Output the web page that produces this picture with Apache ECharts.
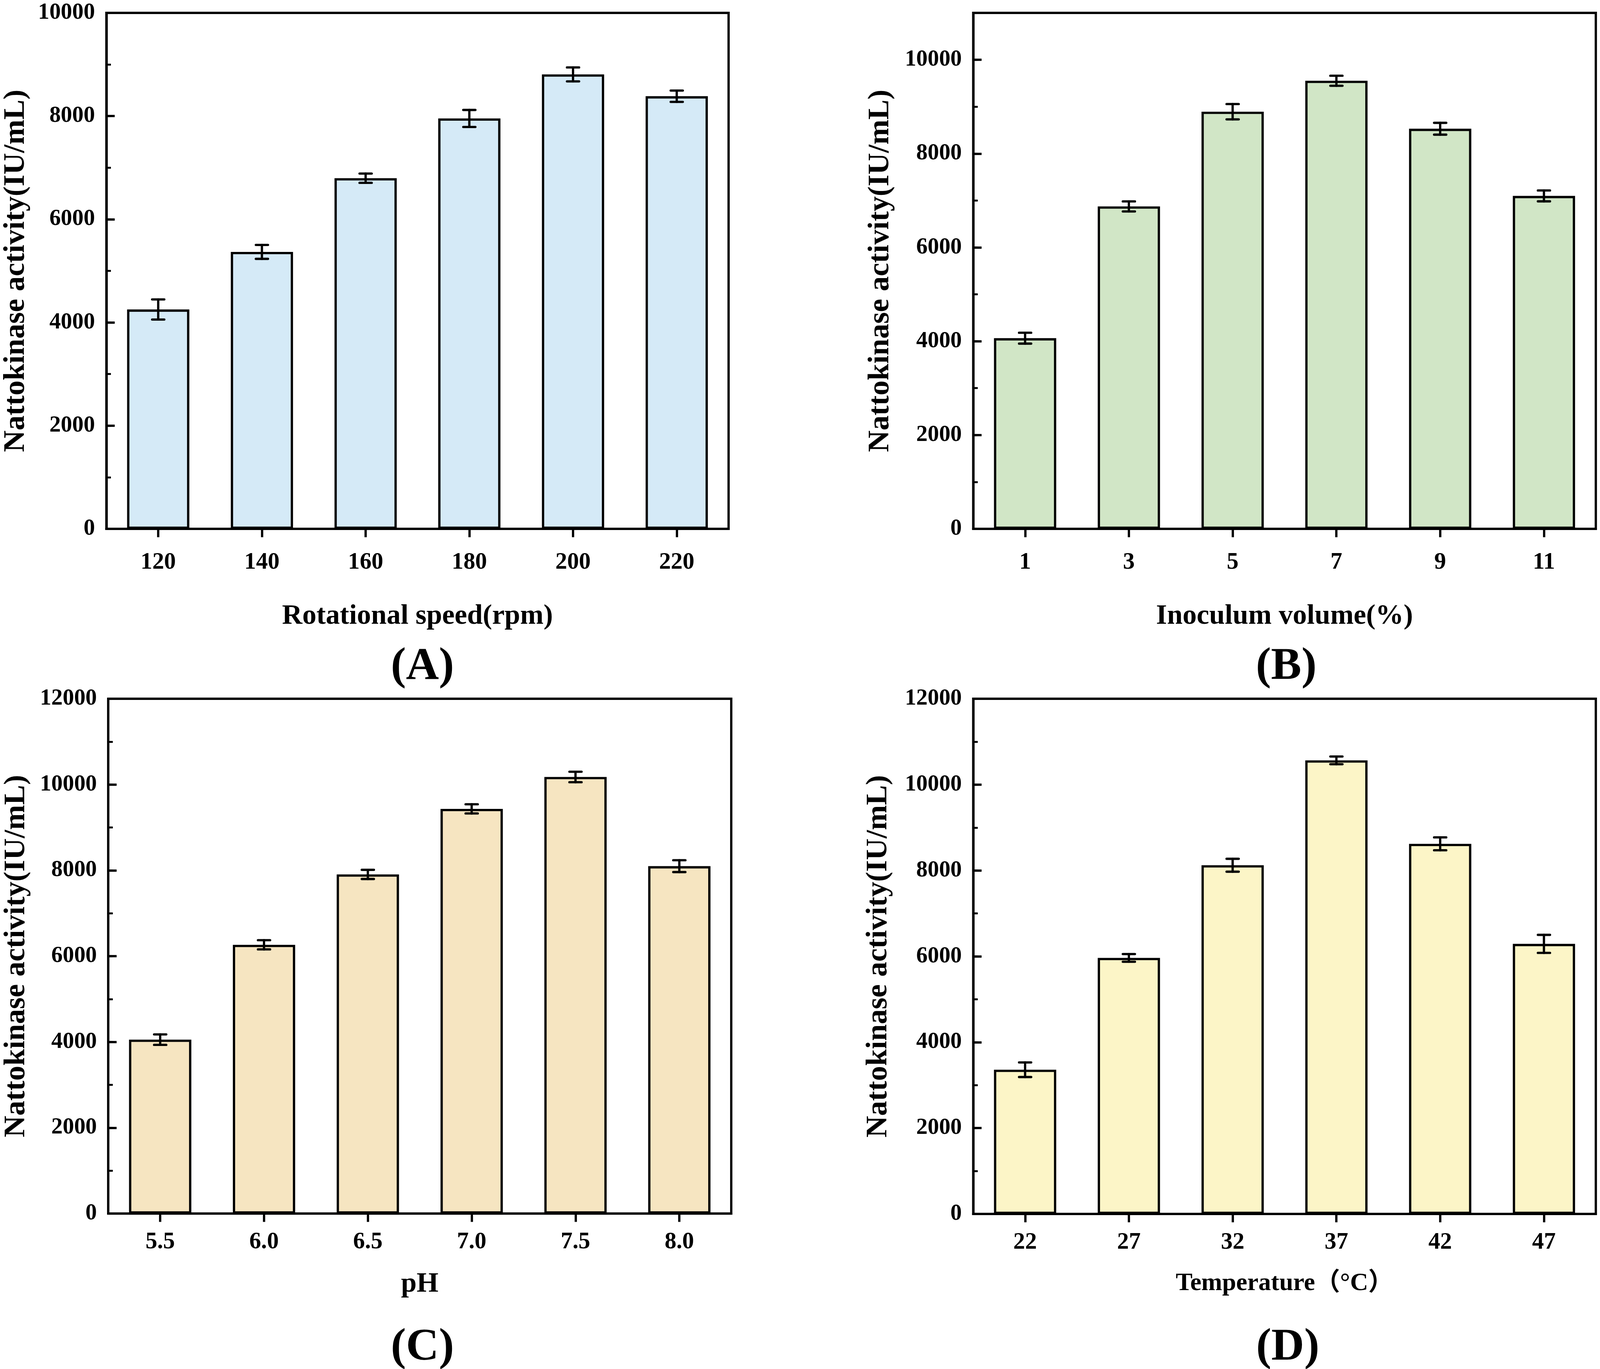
<!DOCTYPE html>
<html>
<head>
<meta charset="utf-8">
<script src="https://cdn.jsdelivr.net/npm/echarts@6/dist/echarts.min.js"></script>
<style>
html,body{margin:0;padding:0;background:#fff;overflow:hidden;}
#chart{width:100vw;height:100vh;}
</style>
</head>
<body>
<div id="chart"></div>
<script>
// ---- Data ----
const yTitle = 'Nattokinase activity(IU/mL)';

const catsA = ['120', '140', '160', '180', '200', '220'];
const valsA = [4252, 5368, 6796, 7954, 8808, 8385];
const errsA = [195, 135, 90, 165, 135, 110];
const titleA = 'Rotational speed(rpm)';

const catsB = ['1', '3', '5', '7', '9', '11'];
const valsB = [4065, 6874, 8893, 9553, 8530, 7098];
const errsB = [116, 107, 163, 107, 126, 116];
const titleB = 'Inoculum volume(%)';

const catsC = ['5.5', '6.0', '6.5', '7.0', '7.5', '8.0'];
const valsC = [4054, 6265, 7905, 9433, 10177, 8098];
const errsC = [122, 107, 107, 107, 122, 138];
const titleC = 'pH';

const catsD = ['22', '27', '32', '37', '42', '47'];
const valsD = [3359, 5964, 8122, 10565, 8621, 6290];
const errsD = [170, 90, 150, 90, 150, 210];
const titleD = 'Temperature（°C）';

const panelLabels = ['(A)', '(B)', '(C)', '(D)'];

// ---- Layout / style (reference frame 4212 x 3505, scaled to the viewport) ----
const el = document.getElementById('chart');
const W = el.clientWidth || window.innerWidth, H = el.clientHeight || window.innerHeight;
const sx = W / 4212, sy = H / 3505, s = Math.min(sx, sy);
const FONT = '"Liberation Serif", "Times New Roman", "Noto Sans CJK SC", serif';
const LW = 6 * s;

const panels = [
  {cats: catsA, vals: valsA, errs: errsA, xName: titleA, color: '#D5EAF7', max: 10000,
   grid: [280, 33, 1638, 1321], xGap: 194, xSize: 74, xMargin: 58, yGap: 198, label: [1112, 1708]},
  {cats: catsB, vals: valsB, errs: errsB, xName: titleB, color: '#D1E6C6', max: 11000,
   grid: [2562, 33, 1639, 1321], xGap: 194, xSize: 74, xMargin: 58, yGap: 204, label: [3386, 1708]},
  {cats: catsC, vals: valsC, errs: errsC, xName: titleC, color: '#F6E5C1', max: 12000,
   grid: [285, 1789, 1640, 1318], xGap: 150, xSize: 74, xMargin: 45, yGap: 202, label: [1112, 3451]},
  {cats: catsD, vals: valsD, errs: errsD, xName: titleD, color: '#FCF5C7', max: 12000,
   grid: [2562, 1789, 1639, 1319], xGap: 150, xSize: 66, xMargin: 45, yGap: 210, label: [3390, 3451]}
];

const grids = [], xAxes = [], yAxes = [], series = [], graphics = [];
panels.forEach((p, i) => {
  grids.push({show: true, borderColor: '#000', borderWidth: LW, backgroundColor: 'transparent',
    left: p.grid[0] * sx, top: p.grid[1] * sy, width: p.grid[2] * sx, height: p.grid[3] * sy});
  xAxes.push({
    type: 'category', gridIndex: i, data: p.cats, position: 'bottom',
    axisLine: {show: true, onZero: false, lineStyle: {color: '#000', width: LW}},
    axisTick: {show: true, alignWithLabel: true, length: 22 * s, lineStyle: {color: '#000', width: LW}},
    axisLabel: {fontFamily: FONT, fontWeight: 'bold', fontSize: 62 * s, color: '#000', margin: p.xMargin * s},
    splitLine: {show: false},
    name: p.xName, nameLocation: 'middle', nameGap: p.xGap * s,
    nameTextStyle: {fontFamily: FONT, fontWeight: 'bold', fontSize: p.xSize * s, color: '#000'}
  });
  yAxes.push({
    type: 'value', gridIndex: i, position: 'left', min: 0, max: p.max, interval: 2000,
    axisLine: {show: true, lineStyle: {color: '#000', width: LW}},
    axisTick: {show: true, inside: true, length: 22 * s, lineStyle: {color: '#000', width: LW}},
    axisLabel: {fontFamily: FONT, fontWeight: 'bold', fontSize: 60 * s, color: '#000', margin: 30 * s,
      formatter: v => (v % 2000 === 0 ? String(v) : '')},
    splitLine: {show: false},
    name: yTitle, nameLocation: 'middle', nameGap: p.yGap * s,
    nameTextStyle: {fontFamily: FONT, fontWeight: 'bold', fontSize: 79 * s, color: '#000'}
  });
  yAxes.push({
    type: 'value', gridIndex: i, position: 'left', offset: 0, min: 0, max: p.max, interval: 1000,
    axisLine: {show: false},
    axisTick: {show: true, inside: true, length: 12 * s, lineStyle: {color: '#000', width: 5 * s}},
    axisLabel: {show: false},
    splitLine: {show: false}
  });
  series.push({
    type: 'bar', xAxisIndex: i, yAxisIndex: i * 2, data: p.vals, barWidth: '60%',
    itemStyle: {color: p.color, borderColor: '#000', borderWidth: LW},
    z: 2
  });
  series.push({
    type: 'custom', xAxisIndex: i, yAxisIndex: i * 2, z: 5,
    data: p.vals.map((v, k) => [k, v, p.errs[k]]),
    renderItem: function (params, api) {
      const idx = api.value(0), v = api.value(1), e = api.value(2);
      const top = api.coord([idx, v + e]);
      const bot = api.coord([idx, v - e]);
      const hw = 16 * s;
      const st = {stroke: '#000', lineWidth: LW, lineCap: 'round'};
      return {type: 'group', children: [
        {type: 'line', shape: {x1: top[0], y1: top[1], x2: bot[0], y2: bot[1]}, style: st},
        {type: 'line', shape: {x1: top[0] - hw, y1: top[1], x2: top[0] + hw, y2: top[1]}, style: st},
        {type: 'line', shape: {x1: bot[0] - hw, y1: bot[1], x2: bot[0] + hw, y2: bot[1]}, style: st}
      ]};
    }
  });
  graphics.push({
    type: 'text', x: p.label[0] * sx, y: p.label[1] * sy,
    style: {text: panelLabels[i], font: 'bold ' + (120 * s) + 'px ' + FONT, fill: '#000',
      textAlign: 'center', textVerticalAlign: 'middle'}
  });
});

const chart = echarts.init(el, null, {renderer: 'canvas'});
chart.setOption({
  animation: false,
  backgroundColor: '#fff',
  grid: grids, xAxis: xAxes, yAxis: yAxes, series: series, graphic: graphics
});
</script>
</body>
</html>
